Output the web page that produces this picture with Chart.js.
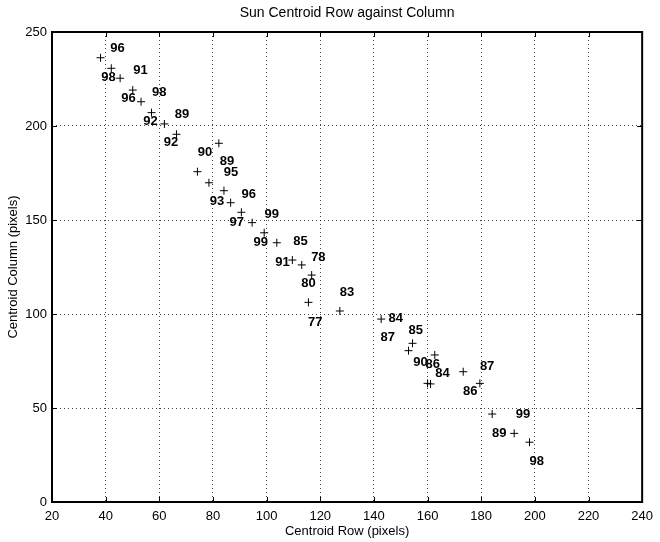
<!DOCTYPE html>
<html>
<head>
<meta charset="utf-8">
<script src="https://cdn.jsdelivr.net/npm/chart.js@4/dist/chart.umd.min.js"></script>
<style>
  html, body { margin: 0; padding: 0; background: #fff; }
  #wrap { width: 660px; height: 542px; }
</style>
</head>
<body>
<div id="wrap"><canvas id="sunChart" width="660" height="542"></canvas></div>
<script>
// sun centroid positions (row = x, column = y)
var centroidRow = [38.1, 42.1, 45.4, 50.1, 53.2, 57.1, 61.9, 66.4, 82.2, 74.2, 78.5,
    84.1, 86.6, 90.6, 94.6, 99.1, 103.8, 109.6, 113.1, 116.8, 115.6, 127.3,
    142.7, 154.4, 152.9, 162.7, 160.0, 161.1, 173.3, 179.5, 184.1, 192.3, 198.0];
var centroidCol = [236.3, 230.7, 225.4, 219.1, 212.9, 207.1, 201.1, 195.6, 190.8, 175.7, 169.8,
    165.6, 159.2, 154.1, 148.6, 143.2, 137.9, 128.7, 126.1, 120.7, 106.2, 101.6,
    97.3, 84.4, 80.5, 78.2, 63.1, 62.8, 69.3, 63.1, 46.8, 36.5, 31.8];

// year labels and where they sit (data units)
var yearText = ['96', '98', '91', '96', '98', '92', '89', '92', '90', '89', '95',
    '93', '96', '97', '99', '99', '85', '91', '78', '80', '83', '77',
    '84', '87', '85', '90', '86', '84', '87', '86', '99', '89', '98'];
var yearRow = [44.4, 41.1, 53.0, 48.5, 60.0, 56.7, 68.5, 64.4, 77.0, 85.2, 86.7,
    81.5, 93.3, 88.9, 101.9, 97.8, 112.6, 105.9, 119.3, 115.6, 130.0, 118.1,
    148.1, 145.2, 155.6, 157.4, 161.9, 165.6, 182.2, 175.9, 195.6, 186.7, 200.7];
var yearCol = [241.0, 226.1, 229.3, 214.9, 217.6, 202.7, 205.9, 191.0, 186.2, 180.9, 175.5,
    160.1, 163.8, 148.9, 153.2, 138.3, 138.8, 127.7, 130.3, 116.5, 111.7, 95.7,
    97.9, 87.8, 91.0, 74.5, 73.4, 68.6, 72.3, 59.0, 46.8, 36.7, 21.8];

var xTicks = [20, 40, 60, 80, 100, 120, 140, 160, 180, 200, 220, 240];
var yTicks = [0, 50, 100, 150, 200, 250];

var FONT = 'Liberation Sans, Arial, Helvetica, sans-serif';

var points = centroidRow.map(function (r, i) {
    return { x: r, y: centroidCol[i] };
});

// box, inward ticks, title and the year labels
var matlabLook = {
    id: 'matlabLook',
    afterDraw: function (chart) {
        var ctx = chart.ctx;
        var a = chart.chartArea;
        var xs = chart.scales.x, ys = chart.scales.y;
        ctx.save();
        ctx.strokeStyle = '#000';
        ctx.lineWidth = 1;
        ctx.beginPath();
        xTicks.forEach(function (v) {
            var px = Math.round(xs.getPixelForValue(v)) + 0.5;
            ctx.moveTo(px, a.bottom); ctx.lineTo(px, a.bottom - 5);
            ctx.moveTo(px, a.top); ctx.lineTo(px, a.top + 5);
        });
        yTicks.forEach(function (v) {
            var py = Math.round(ys.getPixelForValue(v)) + 0.5;
            ctx.moveTo(a.left, py); ctx.lineTo(a.left + 5, py);
            ctx.moveTo(a.right, py); ctx.lineTo(a.right - 5, py);
        });
        ctx.stroke();
        ctx.lineWidth = 2;
        ctx.strokeRect(a.left, a.top, a.right - a.left, a.bottom - a.top);

        ctx.fillStyle = '#000';
        ctx.textAlign = 'center';
        ctx.textBaseline = 'middle';
        ctx.font = '14px ' + FONT;
        ctx.fillText('Sun Centroid Row against Column', (a.left + a.right) / 2, 13);

        ctx.font = 'bold 13px ' + FONT;
        yearText.forEach(function (t, i) {
            ctx.fillText(t, xs.getPixelForValue(yearRow[i]), ys.getPixelForValue(yearCol[i]));
        });
        ctx.restore();
    }
};

var ctx = document.getElementById('sunChart');
var sunChart = new Chart(ctx, {
    type: 'scatter',
    data: {
        datasets: [{
            label: 'centroid',
            data: points,
            pointStyle: 'cross',
            pointRadius: 4,
            pointBorderWidth: 1,
            pointBorderColor: '#000',
            pointBackgroundColor: '#000'
        }]
    },
    options: {
        responsive: false,
        animation: false,
        events: [],
        layout: { padding: { top: 32, right: 14, left: 0, bottom: 0 } },
        plugins: {
            legend: { display: false },
            tooltip: { enabled: false }
        },
        scales: {
            x: {
                type: 'linear',
                min: 20, max: 240,
                afterBuildTicks: function (s) { s.ticks = xTicks.map(function (v) { return { value: v }; }); },
                afterFit: function (s) { s.height = 40; },
                ticks: { color: '#000', padding: 7, font: { family: FONT, size: 13 } },
                grid: { color: 'rgba(0,0,0,0.75)', lineWidth: 1, drawTicks: false },
                border: { display: false, dash: [1, 3] },
                title: { display: true, text: 'Centroid Row (pixels)', color: '#000',
                    font: { family: FONT, size: 13 }, padding: { top: 0, bottom: 3 } }
            },
            y: {
                type: 'linear',
                min: 0, max: 250,
                afterBuildTicks: function (s) { s.ticks = yTicks.map(function (v) { return { value: v }; }); },
                afterFit: function (s) { s.width = 52; },
                ticks: { color: '#000', padding: 5, font: { family: FONT, size: 13 } },
                grid: { color: 'rgba(0,0,0,0.75)', lineWidth: 1, drawTicks: false },
                border: { display: false, dash: [1, 3] },
                title: { display: true, text: 'Centroid Column (pixels)', color: '#000',
                    font: { family: FONT, size: 13 }, padding: { top: 6, bottom: 0 } }
            }
        }
    },
    plugins: [matlabLook]
});
</script>
</body>
</html>
